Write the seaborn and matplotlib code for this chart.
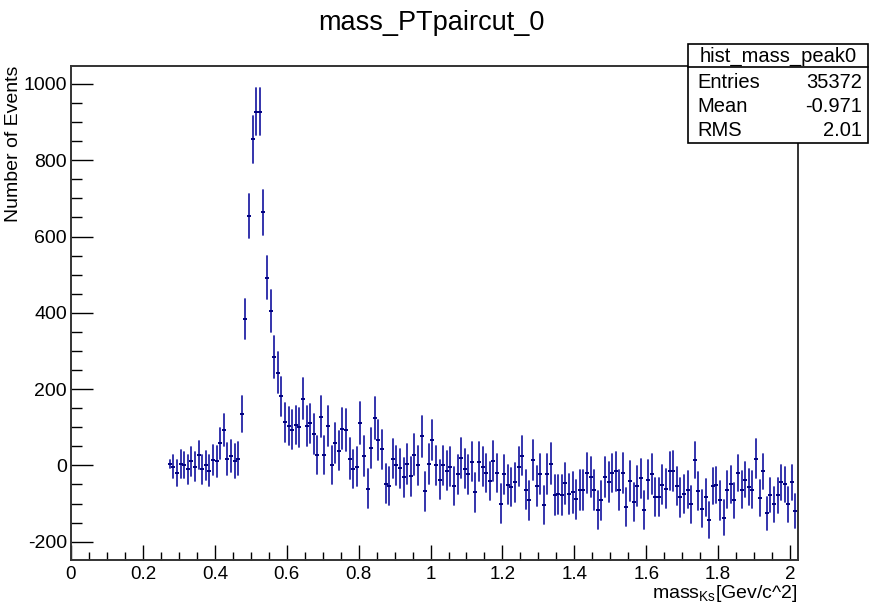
import numpy as np
import pandas as pd
import matplotlib
matplotlib.use("Agg")
import matplotlib.pyplot as plt
from matplotlib.patches import Rectangle
from matplotlib.lines import Line2D
from matplotlib.ticker import MultipleLocator, FuncFormatter
import seaborn as sns

# ---------------- data ----------------
title = "mass_PTpaircut_0"
x_label = r"mass$_{\mathregular{Ks}}$[Gev/c^2]"
y_label = "Number of Events"
stats_name = "hist_mass_peak0"
stats_rows = [("Entries", "35372"), ("Mean", "-0.971"), ("RMS", "2.01")]

first_bin_center = 0.275
bin_width = 0.01

counts = [
    4, -3, -21, 4, 0, -10, 11, -3, 28, -10, 0, -14, 14, 11, 58, 93, 18, 25, 11, 18, 134, 384,
    653, 855, 927, 927, 663, 492, 404, 284, 243, 181,
    113, 104, 93, 106, 100, 175, 104, 110, 83, 28, 128, 28, 104, 0, 58, 39,
    96, 93, 18, -9, -3, 111, 25, -61, 45, 124,
    66, 42, -48, -54, 18, 0, -7, -31, 4, -28,
    28, 0, 76, -68, 4, 66, 0, -37, 0, -14,
    -3, -54, -23, 19, -9, -23, 10, -71, 10, -3,
    -20, -41, 11, -20, -100, -23, -51, -56, -44, -3,
    25, -64, -92, 14, -54, -23, -103, -23, 4, -78,
    -76, -78, -47, -75, -71, -89, -64, -64, -20, -30,
    -64, -116, -92, -30, -44, -20, -16, -64, -20, -110,
    -41, -95, -54, -34, -117, -37, -23, -82, -82,
    -51, -61, -14, -14, -54, -84, -75, -64, -102, 14,
    -68, -113, -84, -143, -54, -51, -92, -137, -64, -50,
    -92, -20, -64, -37, -57, -64, 18, -85, -16, -126,
    -78, -102, -78, -44, -50, -102, -44, -119,
]

errors = [
    11, 29, 34, 37, 34, 38, 38, 38, 37, 38, 38, 40, 39, 41, 40, 43, 42, 42, 44, 44, 47, 52,
    58, 61, 62, 62, 60, 57, 55, 54, 54, 51,
    51, 50, 51, 51, 51, 53, 52, 52, 52, 50, 53, 50, 52, 50, 52, 51,
    54, 54, 53, 50, 52, 55, 52, 51, 52, 54,
    53, 52, 51, 51, 52, 52, 51, 51, 52, 51,
    53, 51, 53, 51, 52, 52, 51, 51, 52, 51,
    51, 50, 51, 52, 51, 51, 52, 50, 52, 51,
    51, 50, 52, 51, 50, 51, 51, 50, 51, 51,
    51, 51, 52, 53, 53, 52, 50, 52, 54, 52,
    52, 53, 54, 52, 53, 51, 53, 53, 52, 52,
    52, 50, 50, 52, 52, 51, 52, 52, 52, 50,
    52, 50, 53, 51, 50, 52, 52, 50, 50,
    51, 51, 50, 52, 51, 50, 50, 48, 48, 48,
    50, 48, 49, 47, 48, 48, 50, 46, 48, 49,
    47, 48, 48, 47, 47, 48, 50, 47, 47, 44,
    45, 46, 46, 46, 47, 46, 46, 44,
]

# bin centers of the histogram
centers = first_bin_center + bin_width * np.arange(len(counts))
counts_a = np.asarray(counts, dtype=float)
errors_a = np.asarray(errors, dtype=float)

# long table: low and high end of every error bar -> seaborn min/max interval
df = pd.DataFrame({
    "mass": np.concatenate([centers, centers]),
    "events": np.concatenate([counts_a - errors_a, counts_a + errors_a]),
})

# ---------------- style ----------------
sns.set_theme(style="ticks")
plt.rcParams["font.family"] = ["Liberation Sans", "DejaVu Sans"]
plt.rcParams["mathtext.fontset"] = "custom"
plt.rcParams["mathtext.rm"] = "Liberation Sans"
plt.rcParams["text.color"] = "black"
plt.rcParams["axes.labelcolor"] = "black"
plt.rcParams["xtick.color"] = "black"
plt.rcParams["ytick.color"] = "black"

W, H = 870, 603
fig = plt.figure(figsize=(W / 100, H / 100), dpi=100, facecolor="white")
L, R, T, B = 71, 798, 66, 560
ax = fig.add_axes([L / W, 1 - B / H, (R - L) / W, (B - T) / H])
ax.set_facecolor("white")

bar_color = "#2424a6"
tick_color = "#000080"

sns.lineplot(data=df, x="mass", y="events", estimator="mean",
             errorbar=("pi", 100), err_style="bars", lw=0,
             color=bar_color, ax=ax, legend=False,
             err_kws=dict(elinewidth=1.3, capsize=0))
sns.scatterplot(x=centers, y=counts_a, marker="_", s=7.5, linewidth=1.4,
                color=tick_color, ax=ax, legend=False, zorder=4)

ax.set_xlim(0, 2.022)
ax.set_ylim(-248, 1047)

ax.xaxis.set_major_locator(MultipleLocator(0.2))
ax.xaxis.set_minor_locator(MultipleLocator(0.05))
ax.yaxis.set_major_locator(MultipleLocator(200))
ax.yaxis.set_minor_locator(MultipleLocator(50))
ax.xaxis.set_major_formatter(FuncFormatter(lambda v, p: f"{v:g}"))
ax.yaxis.set_major_formatter(FuncFormatter(lambda v, p: f"{v:g}"))

ax.tick_params(axis="y", which="major", direction="in", length=15.5, width=1.0,
               color="black", labelcolor="black", labelsize=14, pad=3, right=False)
ax.tick_params(axis="y", which="minor", direction="in", length=8, width=1.0,
               color="black", right=False)
ax.tick_params(axis="x", which="major", direction="in", length=11, width=1.0,
               color="black", labelcolor="black", labelsize=13.5, pad=4, top=False)
ax.tick_params(axis="x", which="minor", direction="in", length=5.5, width=1.0,
               color="black", top=False)

for sp in ax.spines.values():
    sp.set_visible(True)
    sp.set_linewidth(1.4)
    sp.set_color("#333333")

ax.set_xlabel(x_label, fontsize=14, loc="right", color="black")
ax.xaxis.set_label_coords(1.0, -0.046)
ax.set_ylabel(y_label, fontsize=14, loc="top", color="black")
ax.yaxis.set_label_coords(-0.068, 1.0)

# title
fig.text(431 / W, 1 - 23 / H, title, ha="center", va="center", fontsize=19.5, color="black")

# ---------------- statistics box ----------------
def fx(px):
    return px / W

def fy(py):
    return 1 - py / H

bx0, bx1, by0, by1, bsep = 688, 868, 44, 143, 67
fig.patches.append(Rectangle((fx(bx0), fy(by1)), fx(bx1) - fx(bx0), fy(by0) - fy(by1),
                             transform=fig.transFigure, facecolor="white",
                             edgecolor="black", linewidth=1.2, zorder=10))
fig.lines.append(Line2D([fx(bx0), fx(bx1)], [fy(bsep), fy(bsep)],
                        transform=fig.transFigure, color="black", linewidth=1.2, zorder=11))
fig.text(fx((bx0 + bx1) / 2), fy(56), stats_name, ha="center", va="center",
         fontsize=14.5, zorder=12, color="black")
for i, (name, val) in enumerate(stats_rows):
    yy = fy(82.5 + 24 * i)
    fig.text(fx(697), yy, name, ha="left", va="center", fontsize=14.5, zorder=12, color="black")
    fig.text(fx(862), yy, val, ha="right", va="center", fontsize=14.5, zorder=12, color="black")

fig.savefig("out.png", dpi=100, facecolor="white")
